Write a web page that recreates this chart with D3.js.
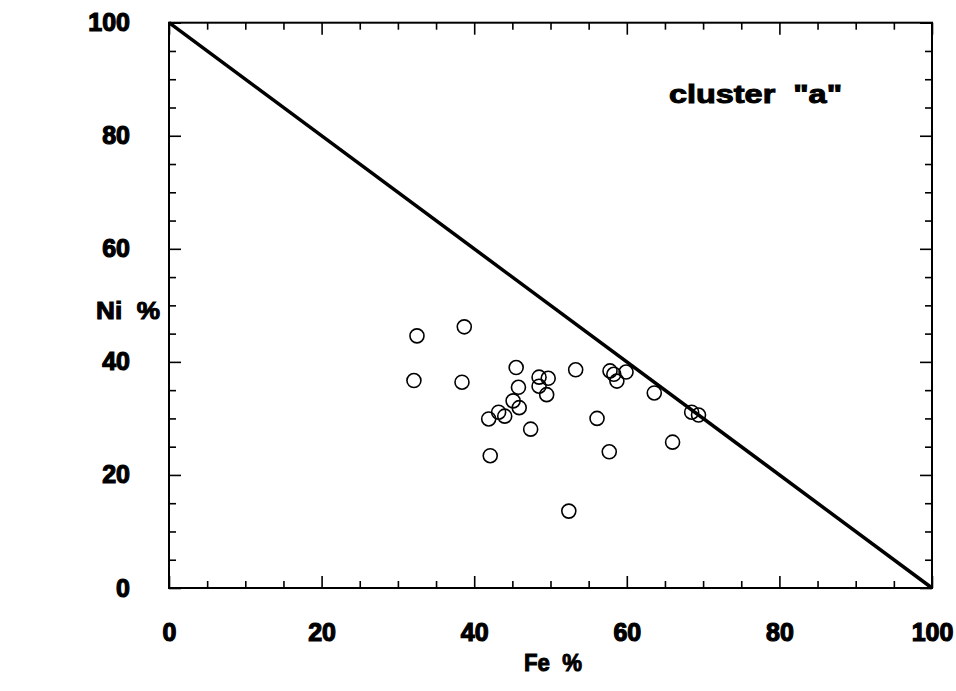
<!DOCTYPE html>
<html>
<head>
    <script src="https://cdn.jsdelivr.net/npm/d3@7" type="text/javascript"></script>
    <style>
        body { margin: 0; background: #fff; }
        text { font-family: "Liberation Sans", Arial, sans-serif; font-weight: bold; fill: #000;
               stroke: #000; stroke-width: 1; white-space: pre; }
    </style>
</head>
<body>
    <div id="viz"></div>
    <script type="text/javascript">

    // Fe % and Ni % (cluster "a")
    var fe = [32.5, 38.7, 32.1, 38.4, 45.5, 48.5, 49.7, 48.5, 49.5, 45.8,
              45.1, 45.9, 43.2, 44.0, 41.9, 47.4, 42.1, 52.4, 53.3, 57.8,
              58.3, 58.7, 59.9, 63.6, 68.5, 69.4, 56.1, 57.7, 66.0];
    var ni = [44.6, 46.2, 36.7, 36.4, 39.0, 37.3, 37.1, 35.7, 34.2, 35.5,
              33.1, 31.9, 31.1, 30.4, 29.9, 28.1, 23.4, 13.6, 38.6, 38.4,
              37.8, 36.6, 38.2, 34.5, 31.1, 30.6, 30.0, 24.1, 25.8];

    var majorTicks = [0, 20, 40, 60, 80, 100];
    var minorTicks = d3.range(0, 101, 5).filter(function(d) { return d % 20 != 0; });
    var linePts = [[0, 100], [100, 0]];   // Fe + Ni = 100

    var width = 956, height = 691;

    var svg = d3.select("#viz")
        .append("svg")
        .attr("width", width)
        .attr("height", height);

    var x = d3.scaleLinear().domain([0, 100]).range([169, 932]);
    var y = d3.scaleLinear().domain([0, 100]).range([588, 22.7]);

    // frame
    svg.append("rect")
        .attr("x", x(0)).attr("y", y(100))
        .attr("width", x(100) - x(0)).attr("height", y(0) - y(100))
        .style("fill", "none").style("stroke", "#000").style("stroke-width", 2);

    function styleAxis(g) {
        g.select(".domain").remove();
        g.selectAll(".tick line").style("stroke", "#000").style("stroke-width", 1.6);
        g.selectAll("text").style("font-size", "25px").style("font-weight", "bold")
            .style("font-family", '"Liberation Sans", Arial, sans-serif')
            .style("stroke", "#000").style("stroke-width", 1.2);
    }

    // bottom
    svg.append("g").attr("transform", "translate(0," + y(0) + ")")
        .call(d3.axisBottom(x).tickValues(majorTicks).tickSize(-12).tickPadding(35).tickFormat(d3.format("d")))
        .call(styleAxis);
    svg.append("g").attr("transform", "translate(0," + y(0) + ")")
        .call(d3.axisBottom(x).tickValues(minorTicks).tickSize(-7).tickFormat(""))
        .call(styleAxis);
    // top
    svg.append("g").attr("transform", "translate(0," + y(100) + ")")
        .call(d3.axisTop(x).tickValues(majorTicks).tickSize(-12).tickFormat(""))
        .call(styleAxis);
    svg.append("g").attr("transform", "translate(0," + y(100) + ")")
        .call(d3.axisTop(x).tickValues(minorTicks).tickSize(-7).tickFormat(""))
        .call(styleAxis);
    // left
    svg.append("g").attr("transform", "translate(" + x(0) + ",0)")
        .call(d3.axisLeft(y).tickValues(majorTicks).tickSize(-12).tickPadding(39).tickFormat(d3.format("d")))
        .call(styleAxis);
    svg.append("g").attr("transform", "translate(" + x(0) + ",0)")
        .call(d3.axisLeft(y).tickValues(minorTicks).tickSize(-7).tickFormat(""))
        .call(styleAxis);
    // right
    svg.append("g").attr("transform", "translate(" + x(100) + ",0)")
        .call(d3.axisRight(y).tickValues(majorTicks).tickSize(-12).tickFormat(""))
        .call(styleAxis);
    svg.append("g").attr("transform", "translate(" + x(100) + ",0)")
        .call(d3.axisRight(y).tickValues(minorTicks).tickSize(-7).tickFormat(""))
        .call(styleAxis);

    // diagonal
    svg.append("path")
        .datum(linePts)
        .attr("d", d3.line().x(function(d) { return x(d[0]); }).y(function(d) { return y(d[1]); }))
        .style("fill", "none").style("stroke", "#000").style("stroke-width", 3.5);

    // points
    svg.selectAll("circle.pt")
        .data(fe)
        .enter().append("circle")
        .attr("class", "pt")
        .attr("cx", function(d) { return x(d); })
        .attr("cy", function(d, i) { return y(ni[i]); })
        .attr("r", 7)
        .style("fill", "none").style("stroke", "#000").style("stroke-width", 1.6);

    // labels
    svg.append("text").attr("x", 669).attr("y", 103)
        .attr("textLength", 173).attr("lengthAdjust", "spacingAndGlyphs")
        .style("font-size", "26px")
        .text('cluster  "a"');

    svg.append("text").attr("x", 96).attr("y", 319)
        .attr("textLength", 64).attr("lengthAdjust", "spacingAndGlyphs")
        .style("font-size", "24px")
        .text("Ni  %");

    svg.append("text").attr("x", 524).attr("y", 671)
        .attr("textLength", 58).attr("lengthAdjust", "spacingAndGlyphs")
        .style("font-size", "24px")
        .text("Fe  %");

    </script>
</body>
</html>
